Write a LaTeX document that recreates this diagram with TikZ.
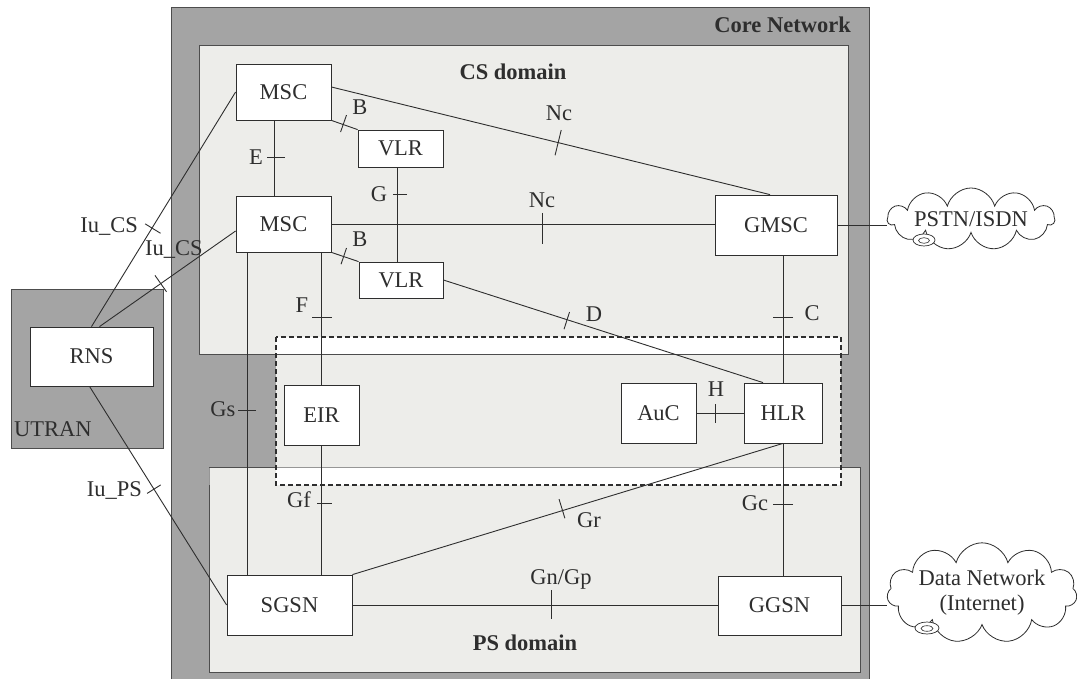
\documentclass[tikz,border=0pt]{standalone}
\usepackage{fontspec}
\setmainfont{Liberation Serif}
\usetikzlibrary{calc,shapes.symbols}
\definecolor{dk}{HTML}{A4A4A4}
\definecolor{lt}{HTML}{EDEDEA}
\definecolor{ln}{HTML}{2E2E2E}
\newcommand\fs{\fontsize{22.5}{25}\selectfont}
\newcommand\tkm[5]{\draw[conn] ($(#1)!#3!(#2)!#4!90:(#2)$) -- ($(#1)!#3!(#2)!#5!-90:(#2)$);}
\begin{document}
\begin{tikzpicture}[x=1pt,y=-1pt,
  conn/.style={draw=ln, line width=0.9pt},
  frame/.style={draw=ln!85, line width=0.8pt},
  box/.style={draw=ln, fill=white, line width=0.8pt, inner sep=0pt, font=\fs, text=ln},
  lbl/.style={inner sep=0pt, font=\fs, text=ln},
  ttl/.style={inner sep=0pt, font=\fs\bfseries, text=ln},
  cld/.style={cloud, cloud puffs=11, cloud ignores aspect, draw=ln, fill=white, line width=0.8pt, inner sep=0pt, font=\fs, text=ln, align=center}]
\useasboundingbox (0,0) rectangle (1077,679);
\clip (0,0) rectangle (1077,679);
\fill[white] (0,0) rectangle (1077,679);
% core network
\fill[dk] (171,7) rectangle (869,700);
\draw[frame] (171,7) rectangle (869,700);
\fill[lt] (199,45) rectangle (848,354);
\fill[lt] (209,467) rectangle (860,672);
\fill[lt] (276,354) rectangle (841,467);
\fill[white] (276,337) rectangle (841,354);
\fill[white] (276,467) rectangle (841,485);
\draw[frame] (199,45) rectangle (848,354);
\draw[frame, draw=ln!50] (209,467) rectangle (860,672);
\draw[frame] (209,485) -- (209,672) -- (860,672) -- (860,467) -- (841,467);
\draw[frame] (209,467) -- (276,467);
\draw[ln, line width=1.3pt, dash pattern=on 5pt off 3pt] (276,337) rectangle (841,485);
% UTRAN
\fill[dk] (11,289) rectangle (163,448);
\draw[frame] (11,289) rectangle (163,448);
% titles
\node[ttl, anchor=east] (tcore) at (851,25) {Core Network};
\node[ttl] (tcs) at (513,72) {CS domain};
\node[ttl] (tps) at (525,643) {PS domain};
\node[lbl, anchor=west] (tutran) at (14,429) {UTRAN};
% nodes
\node[box, minimum width=95pt, minimum height=56pt] (MSC1) at (283.5,92) {MSC};
\node[box, minimum width=85pt, minimum height=37pt] (VLR1) at (400.5,148.5) {VLR};
\node[box, minimum width=95pt, minimum height=56pt] (MSC2) at (283.5,224) {MSC};
\node[box, minimum width=84pt, minimum height=36pt] (VLR2) at (401,280) {VLR};
\node[box, minimum width=122pt, minimum height=60pt] (GMSC) at (776,225) {GMSC};
\node[box, minimum width=123pt, minimum height=59pt] (RNS) at (91.5,356.5) {RNS};
\node[box, minimum width=75pt, minimum height=60pt] (EIR) at (321.5,415) {EIR};
\node[box, minimum width=75pt, minimum height=60pt] (AuC) at (658.5,413) {AuC};
\node[box, minimum width=78pt, minimum height=60pt] (HLR) at (783,413) {HLR};
\node[box, minimum width=125pt, minimum height=60pt] (SGSN) at (289.5,605) {SGSN};
\node[box, minimum width=123pt, minimum height=59pt] (GGSN) at (779.5,605.5) {GGSN};
\node[cld, minimum width=167pt, minimum height=62pt] (PSTN) at (971,219) {PSTN/ISDN};
\node[cld, minimum width=190pt, minimum height=83pt] (DN) at (982,593) {Data Network\\(Internet)};
\draw[ln, fill=white, line width=0.7pt] (924,240) ellipse [x radius=11, y radius=6];
\draw[ln, line width=0.6pt] (924,240.5) ellipse [x radius=5.5, y radius=2.8];
\draw[ln, fill=white, line width=0.7pt] (927,628) ellipse [x radius=12, y radius=6];
\draw[ln, line width=0.6pt] (927,628.5) ellipse [x radius=6, y radius=2.8];
% helper coordinates
\coordinate (xE) at (274,0);
\coordinate (xG) at (397,0);
\coordinate (xGs) at (247,0);
\coordinate (e1) at (MSC1.south -| xE);
\coordinate (e2) at (MSC2.north -| xE);
\coordinate (g1) at (VLR1.south -| xG);
\coordinate (g2) at (VLR2.north -| xG);
\coordinate (f1) at (EIR.north |- MSC2.south);
\coordinate (s1) at (MSC2.south -| xGs);
\coordinate (s2) at (SGSN.north -| xGs);
\coordinate (gf2) at (EIR.south |- SGSN.north);
\coordinate (c1) at (HLR.north |- GMSC.south);
\coordinate (gc2) at (HLR.south |- GGSN.north);
\coordinate (nc2) at (MSC2.east -| GMSC.west);
\coordinate (gn2) at (SGSN.east -| GGSN.west);
\coordinate (ps1) at (GMSC.east -| PSTN.west);
\coordinate (dn1) at (GGSN.east -| DN.west);
\coordinate (n1) at ($(MSC1.east)+(0,-5)$);
\coordinate (n2) at ($(GMSC.north)+(-6,0)$);
\coordinate (d2) at ($(HLR.north)+(-20,0)$);
\coordinate (r2) at ($(RNS.north)+(8,0)$);
\coordinate (m2) at ($(MSC2.west)+(0,7)$);
\coordinate (r3) at ($(RNS.south)+(-2,0)$);
% connectors
\draw[conn] (e1) -- (e2);            \tkm{e1}{e2}{0.487}{11pt}{7pt}
\draw[conn] (g1) -- (g2);            \tkm{g1}{g2}{0.284}{10pt}{4pt}
\draw[conn] (f1) -- (EIR.north);     \tkm{f1}{EIR.north}{0.489}{10pt}{10pt}
\draw[conn] (s1) -- (s2);            \tkm{s1}{s2}{0.492}{9pt}{9pt}
\draw[conn] (EIR.south) -- (gf2);    \tkm{EIR.south}{gf2}{0.446}{10pt}{5pt}
\draw[conn] (c1) -- (HLR.north);     \tkm{c1}{HLR.north}{0.484}{10pt}{10pt}
\draw[conn] (HLR.south) -- (gc2);    \tkm{HLR.south}{gc2}{0.459}{10pt}{10pt}
\draw[conn] (AuC.east) -- (HLR.west); \tkm{AuC.east}{HLR.west}{0.40}{9pt}{10pt}
\draw[conn] (MSC2.east) -- (nc2);    \tkm{MSC2.east}{nc2}{0.552}{11pt}{20pt}
\draw[conn] (SGSN.east) -- (gn2);    \tkm{SGSN.east}{gn2}{0.546}{15pt}{14pt}
\draw[conn] (GMSC.east) -- (ps1);
\draw[conn] (GGSN.east) -- (dn1);
\draw[conn] (MSC1.south east) -- (VLR1.north west); \tkm{MSC1.south east}{VLR1.north west}{0.45}{10pt}{8pt}
\draw[conn] (MSC2.south east) -- (VLR2.north west); \tkm{MSC2.south east}{VLR2.north west}{0.45}{9pt}{8pt}
\draw[conn] (n1) -- (n2);            \tkm{n1}{n2}{0.517}{13pt}{13pt}
\draw[conn] (VLR2.east) -- (d2);     \tkm{VLR2.east}{d2}{0.387}{8pt}{10pt}
\draw[conn] (HLR.south) -- (SGSN.north east); \tkm{HLR.south}{SGSN.north east}{0.512}{8pt}{12pt}
\draw[conn] (RNS.north) -- (MSC1.west); \tkm{RNS.north}{MSC1.west}{0.42}{8pt}{10pt}
\draw[conn] (r2) -- (m2);            \tkm{r2}{m2}{0.45}{10pt}{10pt}
\draw[conn] (r3) -- (SGSN.west);     \tkm{r3}{SGSN.west}{0.47}{8pt}{8pt}
% interface labels
\node[lbl, anchor=east] (lIu1) at (138,227) {Iu\_CS};
\node[lbl] (lIu2) at (174,250) {Iu\_CS};
\node[lbl, anchor=east] (lIuPS) at (142,490) {Iu\_PS};
\node[lbl] (lE) at (256,157) {E};
\node[lbl] (lB1) at (360,107) {B};
\node[lbl] (lB2) at (360,239) {B};
\node[lbl] (lG) at (379,194) {G};
\node[lbl] (lNc1) at (559,113) {Nc};
\node[lbl] (lNc2) at (542,200) {Nc};
\node[lbl] (lF) at (302,305) {F};
\node[lbl] (lD) at (594,314) {D};
\node[lbl] (lC) at (812,313) {C};
\node[lbl] (lH) at (716,389) {H};
\node[lbl] (lGs) at (223,409) {Gs};
\node[lbl] (lGf) at (299,500) {Gf};
\node[lbl] (lGr) at (589,520) {Gr};
\node[lbl] (lGc) at (755,503) {Gc};
\node[lbl] (lGn) at (561,579) {Gn/Gp};
\end{tikzpicture}
\end{document}
